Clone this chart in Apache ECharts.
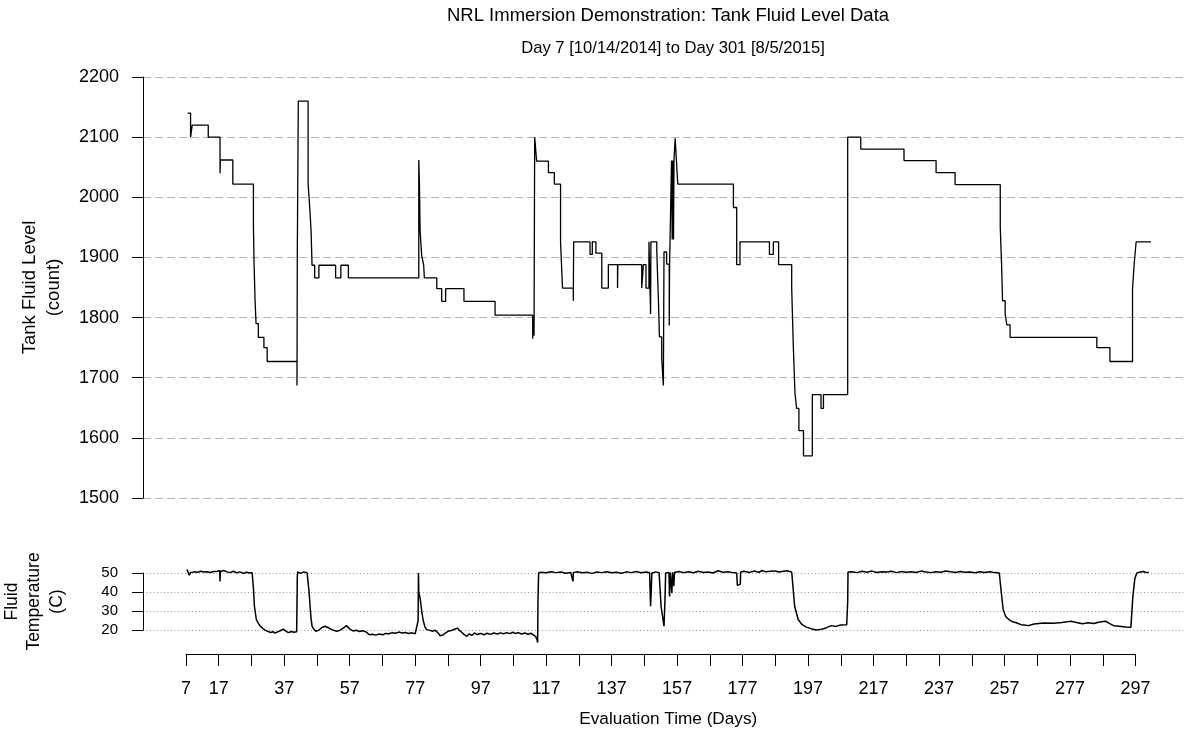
<!DOCTYPE html>
<html>
<head>
<meta charset="utf-8">
<script src="https://cdn.jsdelivr.net/npm/echarts@6/dist/echarts.min.js"></script>
<style>
html,body{margin:0;padding:0;background:#fff;}
#chart{width:1186px;height:736px;}
</style>
</head>
<body>
<div id="chart"></div>
<script>
// ---- Data ----
const titleText = "NRL Immersion Demonstration: Tank Fluid Level Data";
const subtitleText = "Day 7 [10/14/2014] to Day 301 [8/5/2015]";
const xTickValues = [7,17,27,37,47,57,67,77,87,97,107,117,127,137,147,157,167,177,187,197,207,217,227,237,247,257,267,277,287,297];
const xLabelValues = [7,17,37,57,77,97,117,137,157,177,197,217,237,257,277,297];

// Tank fluid level (count), step series: value holds from day until next day
const levelDays = [7.5,8.4,8.9,13.8,17.4,17.5,21.3,27.6,27.8,28.1,28.4,29.1,30.8,31.8,
  40.9,41.0,41.3,44.3,44.8,45.2,45.5,46.3,47.6,52.7,54.3,56.6,
  78.1,78.3,78.5,79.0,79.6,79.8,83.6,85.1,86.3,91.9,101.4,112.9,113.1,113.3,113.5,114.1,117.7,119.5,
  121.4,122.0,125.3,125.4,130.4,131.1,132.2,134.0,136.0,138.8,138.9,146.2,146.7,147.5,148.4,148.9,149.0,
  150.8,151.3,151.6,152.3,152.8,153.0,153.8,154.6,154.7,155.3,155.5,155.7,155.9,156.05,156.4,156.6,157.2,
  174.2,175.2,176.2,185.2,186.4,188.0,192.0,192.5,193.0,193.5,194.2,195.6,198.3,200.95,201.7,
  209.1,213.1,226.3,236.1,241.9,255.7,256.1,256.4,257.2,257.7,258.7,285.2,289.2,296.1,296.6,297.2,301.7];
const levelValues = [2140,2100,2120,2100,2040,2062,2022,1950,1889,1828,1790,1767,1750,1727,
  1687,1906,2160,2022,1983,1945,1887,1866,1887,1866,1887,1866,
  2062,2022,1945,1903,1887,1866,1848,1827,1848,1827,1804,1765,1800,1770,2100,2060,2041,2022,
  1926,1849,1828,1926,1905,1926,1907,1849,1888,1849,1888,1849,1888,1849,1926,1806,1926,
  1909,1828,1768,1732,1687,1909,1889,1787,1887,2061,1930,2061,1930,2061,2098,2080,2022,
  1983,1888,1926,1905,1926,1888,1849,1751,1674,1649,1612,1570,1672,1649,1672,
  2100,2080,2061,2041,2021,1950,1889,1828,1806,1788,1767,1750,1727,1848,1889,1926,1926];

// Fluid temperature (C)
const tempDays = [7.3,7.6,8.0,8.4,9.5,10.5,11.5,12.5,13.5,14.5,15.5,16.5,17.3,17.4,17.5,18.5,19.5,20.5,21.5,22.5,23.5,24.5,25.5,26.5,27.2,
  27.6,27.9,28.5,29.1,29.7,30.5,31.2,32.0,32.8,33.5,34.3,35.0,35.8,36.7,37.5,38.3,39.2,40.0,40.8,
  41.0,41.1,42.0,43.0,44.0,44.3,44.6,44.9,45.2,45.5,46.0,46.6,47.5,48.5,49.5,50.5,51.5,52.3,53.1,54.0,55.0,56.0,
  57.0,58.0,59.0,60.0,61.0,62.0,63.0,64.0,65.0,66.0,67.1,68.0,69.0,70.0,71.0,72.0,73.0,74.0,75.0,76.0,77.0,77.6,
  77.9,78.0,78.1,78.5,79.0,79.4,80.0,80.5,81.5,82.3,83.0,84.0,84.6,85.5,86.2,87.0,88.0,89.0,89.9,90.5,91.2,92.0,92.8,
  93.5,94.3,95.1,96.0,97.0,98.0,99.0,100.0,101.0,102.1,103.0,104.0,105.0,106.0,106.8,107.5,108.5,109.5,110.5,111.5,112.3,113.0,113.3,
  113.8,114.2,114.4,114.5,114.7,115.5,117.0,118.5,120.0,121.5,123.0,124.5,125.1,125.2,125.3,126.5,128.0,129.5,131.0,132.5,134.0,135.5,137.0,
  138.5,140.0,141.5,143.0,144.5,146.0,147.5,148.6,148.9,149.3,150.5,151.5,152.1,153.0,153.3,153.5,154.5,154.7,154.9,155.4,155.6,156.0,156.2,
  157.5,159.0,160.5,162.0,163.5,165.0,166.5,168.0,169.5,171.0,172.5,174.0,175.2,175.4,176.0,176.3,176.4,177.5,179.0,180.5,182.0,183.0,184.0,
  185.5,187.0,188.0,189.0,190.5,192.0,192.9,194.0,195.2,196.5,198.2,199.5,200.6,202.0,203.0,204.1,205.5,207.0,208.8,209.1,209.2,
  210.5,212.0,213.5,215.0,216.5,218.0,219.5,221.0,222.5,224.0,225.5,227.0,228.5,230.0,231.5,233.0,234.5,236.0,237.5,239.0,240.5,242.0,
  243.5,245.0,246.5,248.0,249.5,251.0,252.5,254.0,255.4,256.0,256.6,257.4,258.4,259.5,260.8,262.0,263.0,264.3,266.0,269.0,272.0,274.5,
  277.3,279.0,280.8,282.5,284.3,286.0,287.9,289.0,290.3,292.0,294.0,295.6,296.2,296.8,297.4,298.5,299.5,300.3,301.1];
const tempValues = [51.8,50.5,48.8,50.2,50.6,50.4,50.9,50.5,50.7,50.3,50.8,50.9,51.2,45.6,50.8,51.3,50.6,50.2,50.9,50.1,50.6,49.8,50.4,50.0,50.2,
  42.0,32.5,25.4,23.5,22.0,20.8,19.8,19.3,18.7,19.1,18.4,19.0,19.6,20.5,19.4,18.6,19.2,18.8,19.1,
  48.0,50.5,49.8,50.6,50.1,49.5,40.0,32.5,26.0,22.0,20.5,19.3,19.8,21.3,22.0,21.2,20.2,19.7,19.3,19.8,21.0,22.3,
  20.6,19.5,19.9,19.2,19.6,19.0,17.5,17.8,17.3,17.9,17.5,18.2,18.0,18.6,18.3,18.9,18.4,18.7,18.2,18.5,18.0,18.4,
  25.0,50.0,40.0,36.8,30.0,25.4,21.5,20.2,19.8,19.3,19.9,18.5,17.0,17.4,18.3,19.3,19.7,20.4,21.0,19.8,18.8,17.6,16.7,
  18.0,17.2,18.4,17.6,18.2,17.5,18.3,17.7,18.4,17.9,18.5,18.0,18.6,18.1,18.8,18.2,18.6,17.9,18.4,17.8,18.3,17.6,17.9,
  16.5,15.0,13.4,35.0,50.0,50.4,50.1,50.6,50.2,50.5,49.9,50.3,50.0,45.6,50.2,50.6,50.1,50.4,49.8,50.5,50.2,50.7,50.1,
  50.4,49.9,50.6,50.2,50.8,50.1,50.5,50.1,32.5,50.0,50.6,50.2,32.5,22.0,36.0,50.0,50.3,37.7,50.2,39.5,50.4,43.0,50.3,
  50.8,50.2,50.6,50.1,50.9,50.3,50.5,50.0,51.2,50.4,50.7,50.2,50.0,43.5,43.0,44.0,50.5,50.9,50.3,51.0,50.4,51.3,50.6,
  50.9,51.1,50.5,50.8,51.2,50.5,32.5,25.4,22.8,21.5,20.5,20.0,20.2,20.8,21.5,22.3,21.9,22.6,22.8,35.0,50.5,
  50.6,50.2,50.9,50.4,51.0,50.3,50.7,50.5,50.9,50.2,50.8,50.4,50.6,50.3,51.0,50.5,50.2,50.7,50.4,51.1,50.6,50.3,
  50.8,50.4,50.5,50.1,50.6,50.3,50.7,50.2,50.0,40.0,30.7,27.0,25.4,24.3,23.7,22.8,22.6,22.3,23.2,23.7,23.6,24.0,
  24.6,23.9,23.3,23.8,23.4,24.2,24.6,23.5,22.3,22.0,21.6,21.4,37.7,47.0,50.0,50.5,50.8,50.2,50.4];

const levelData = levelDays.map((d, i) => [d, levelValues[i]]);
const tempData = tempDays.map((d, i) => [d, tempValues[i]]);

// ---- Chart ----
const FONT = "'Liberation Sans', Arial, sans-serif";
const chart = echarts.init(document.getElementById('chart'), null, {renderer: 'canvas'});
const xMin = -6.13, xMax = 312.43;
const plain = v => String(v);

chart.setOption({
  animation: false,
  backgroundColor: '#ffffff',
  textStyle: {fontFamily: FONT, color: '#000'},
  title: [
    {text: titleText, left: 668, top: 6, textAlign: 'center', padding: 0,
     textStyle: {fontFamily: FONT, fontSize: 18.5, fontWeight: 'normal', color: '#000'}},
    {text: subtitleText, left: 673, top: 40, textAlign: 'center', padding: 0,
     textStyle: {fontFamily: FONT, fontSize: 16.6, fontWeight: 'normal', color: '#000'}}
  ],
  grid: [
    {left: 143, top: 77, width: 1043, height: 421, containLabel: false, outerBoundsMode: 'none'},
    {left: 143, top: 573, width: 1043, height: 57, containLabel: false, outerBoundsMode: 'none'},
    {left: 186, top: 653, width: 949.5, height: 1, containLabel: false, outerBoundsMode: 'none'}
  ],
  xAxis: [
    {type: 'value', gridIndex: 0, min: xMin, max: xMax, show: false},
    {type: 'value', gridIndex: 1, min: xMin, max: xMax, show: false},
    {type: 'value', gridIndex: 2, min: 7, max: 297, position: 'bottom',
     axisLine: {show: true, onZero: false, lineStyle: {color: '#000', width: 1}},
     axisTick: {show: true, length: 12, customValues: xTickValues, lineStyle: {color: '#000', width: 1}},
     axisLabel: {show: true, customValues: xLabelValues, margin: 26, fontSize: 18, color: '#000', fontFamily: FONT, formatter: plain},
     splitLine: {show: false},
     name: 'Evaluation Time (Days)', nameLocation: 'middle', nameGap: 57,
     nameTextStyle: {fontSize: 17.2, color: '#000', fontFamily: FONT, padding: [0, 0, 0, 15]}}
  ],
  yAxis: [
    {type: 'value', gridIndex: 0, min: 1500, max: 2200, interval: 100,
     axisLine: {show: true, onZero: false, lineStyle: {color: '#000', width: 1}},
     axisTick: {show: true, length: 11, lineStyle: {color: '#000', width: 1}},
     axisLabel: {margin: 24, fontSize: 18, color: '#000', fontFamily: FONT, formatter: plain},
     splitLine: {show: true, lineStyle: {color: '#b4b4b4', width: 1, type: [8, 4]}},
     name: 'Tank Fluid Level\n(count)', nameLocation: 'middle', nameGap: 77, nameRotate: 90,
     nameTextStyle: {fontSize: 18.5, lineHeight: 24, color: '#000', fontFamily: FONT, align: 'center'}},
    {type: 'value', gridIndex: 1, min: 20, max: 50, interval: 10,
     axisLine: {show: true, onZero: false, lineStyle: {color: '#000', width: 1}},
     axisTick: {show: true, length: 11, lineStyle: {color: '#000', width: 1}},
     axisLabel: {margin: 25, fontSize: 15, color: '#000', fontFamily: FONT, formatter: plain},
     splitLine: {show: true, lineStyle: {color: '#9a9a9a', width: 1, type: [1, 2.5]}},
     name: 'Fluid\nTemperature\n(C)', nameLocation: 'middle', nameGap: 75, nameRotate: 90,
     nameTextStyle: {fontSize: 17.5, lineHeight: 22.5, color: '#000', fontFamily: FONT, align: 'center'}},
    {type: 'value', gridIndex: 2, min: 0, max: 1, show: false}
  ],
  series: [
    {type: 'line', name: 'Tank Fluid Level', xAxisIndex: 0, yAxisIndex: 0, data: levelData,
     step: 'end', showSymbol: false, symbol: 'none', clip: false,
     lineStyle: {color: '#000', width: 1.3}},
    {type: 'line', name: 'Fluid Temperature', xAxisIndex: 1, yAxisIndex: 1, data: tempData,
     showSymbol: false, symbol: 'none', clip: false,
     lineStyle: {color: '#000', width: 1.5}}
  ]
});
</script>
</body>
</html>
